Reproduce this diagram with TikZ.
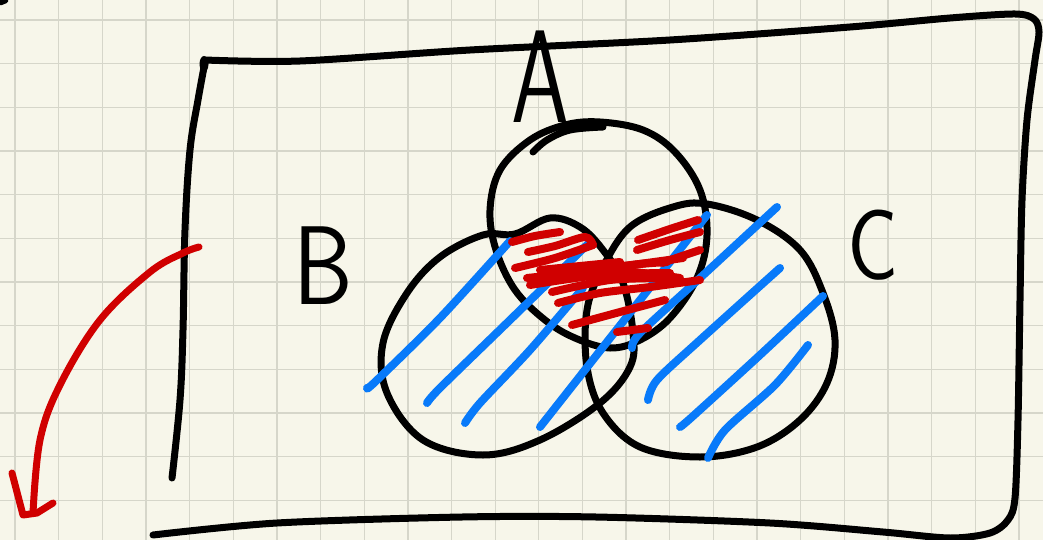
\documentclass[tikz,border=0pt]{standalone}
\usetikzlibrary{calc}
\definecolor{paper}{RGB}{247,246,234}
\definecolor{gridc}{RGB}{214,214,202}
\definecolor{inkblue}{RGB}{8,122,250}
\definecolor{inkred}{RGB}{208,0,0}
\tikzset{
  gridline/.style={draw=gridc, line width=1.3pt},
  ink/.style={draw=black, line width=7pt, line cap=round, line join=round},
  blueink/.style={draw=inkblue, line width=8pt, line cap=round, line join=round},
  redink/.style={draw=inkred, line width=8pt, line cap=round, line join=round},
  letter/.style={inner sep=0pt, font=\sffamily}
}
\begin{document}
\begin{tikzpicture}[x=1pt,y=-1pt]
\useasboundingbox (0,0) rectangle (1043,540);
\fill[paper] (0,0) rectangle (1043,540);
% grid
\foreach \i in {0,...,23} \draw[gridline] ({15+43.65*\i},0) -- ({15+43.65*\i},540);
\foreach \j in {0,...,12} \draw[gridline] (0,{20+43.65*\j}) -- (1043,{20+43.65*\j});
% corner mark
\draw[ink] (0,2) -- (5,0);
% frame
\draw[ink] plot[smooth, tension=0.6] coordinates {(172,478) (180,400) (183,330) (185,230) (190,150) (198,100) (205,62)};
\fill (204,64) ellipse (4.5pt and 8pt);
\draw[ink] plot[smooth, tension=0.5] coordinates {(205,60) (300,61) (470,50) (670,40) (850,27) (950,18) (1015,14) (1034,19) (1039,32) (1035,60) (1027,120) (1022,200) (1020,300) (1018,420) (1015,498) (1008,520) (990,533) (950,538) (883,532) (770,523) (596,517) (462,517) (277,523) (153,535)};
% circles
\draw[ink] plot[smooth cycle, tension=0.6] coordinates {(600,122) (643,130) (675,152) (700,190) (707,235) (697,278) (670,318) (640,340) (610,348) (575,338) (545,320) (515,290) (496,250) (490,210) (500,170) (530,140) (565,125)};
\draw[ink] plot[smooth, tension=0.6] coordinates {(533,152) (547,140) (570,130) (603,127)};
\draw[ink] plot[smooth cycle, tension=0.6] coordinates {(550,218) (580,227) (603,250) (623,283) (633,333) (630,367) (600,403) (540,440) (483,455) (423,440) (387,393) (383,343) (407,293) (440,257) (483,235) (515,234)};
\draw[ink] plot[smooth cycle, tension=0.6] coordinates {(630,227) (673,207) (707,204) (757,220) (800,250) (823,293) (835,340) (827,383) (800,420) (757,447) (700,457) (640,447) (603,413) (587,367) (587,310) (603,267)};
% letters
\node[letter, font=\sffamily\fontsize{132}{132}\selectfont, xscale=0.7] (A) at (540,77) {A};
\node[letter, font=\sffamily\fontsize{112}{112}\selectfont, xscale=0.85] (B) at (323,266) {B};
\node[letter, font=\sffamily\fontsize{100}{100}\selectfont, xscale=0.85] (C) at (873,245) {C};
% blue hatching
\draw[blueink] plot[smooth] coordinates {(367,388) (375,382) (440,318) (510,241)};
\draw[blueink] plot[smooth] coordinates {(427,403) (440,388) (510,320) (590,242)};
\draw[blueink] plot[smooth] coordinates {(465,423) (480,403) (530,350) (583,288)};
\draw[blueink] (540,427) -- (707,215);
\draw[blueink] plot[smooth] coordinates {(632,348) (640,333) (700,278) (777,207)};
\draw[blueink] plot[smooth] coordinates {(648,400) (657,380) (700,340) (780,268)};
\draw[blueink] plot[smooth] coordinates {(680,427) (692,417) (760,355) (823,296)};
\draw[blueink] plot[smooth] coordinates {(708,458) (725,430) (775,385) (808,345)};
% red hatching
\draw[redink] plot[smooth] coordinates {(512,242) (535,236) (560,232)};
\draw[redink] plot[smooth] coordinates {(528,252) (555,246) (585,237) (593,245)};
\draw[redink] plot[smooth] coordinates {(515,268) (555,258) (593,245)};
\draw[redink] plot[smooth] coordinates {(527,278) (580,272) (683,258)};
\draw[redink] plot[smooth] coordinates {(530,285) (600,275) (670,273)};
\draw[redink] plot[smooth] coordinates {(547,275) (610,270) (680,278)};
\draw[redink] plot[smooth] coordinates {(552,292) (610,280) (667,278)};
\draw[redink] plot[smooth] coordinates {(540,270) (580,266) (620,262)};
\draw[redink] plot[smooth] coordinates {(558,303) (600,293) (650,287) (700,280)};
\draw[redink] plot[smooth] coordinates {(572,325) (620,312) (665,300)};
\draw[redink] (617,332) -- (648,328);
\draw[redink] plot[smooth] coordinates {(638,240) (670,229) (698,220)};
\draw[redink] plot[smooth] coordinates {(637,250) (670,240) (700,232)};
\draw[redink] plot[smooth] coordinates {(662,263) (685,255) (700,250)};
\draw[redink] plot[smooth] coordinates {(607,268) (640,264) (667,262)};
% red arrow
\coordinate (s) at (199,247);
\coordinate (t) at (33,513);
\draw[redink, line width=7pt] plot[smooth, tension=0.6] coordinates {(s) (183,253) (150,272) (100,320) (60,385) (40,440) (t)};
\draw[redink, line width=7pt] (12,473) -- (23,515) -- (37,513) -- (53,503);
\end{tikzpicture}
\end{document}
